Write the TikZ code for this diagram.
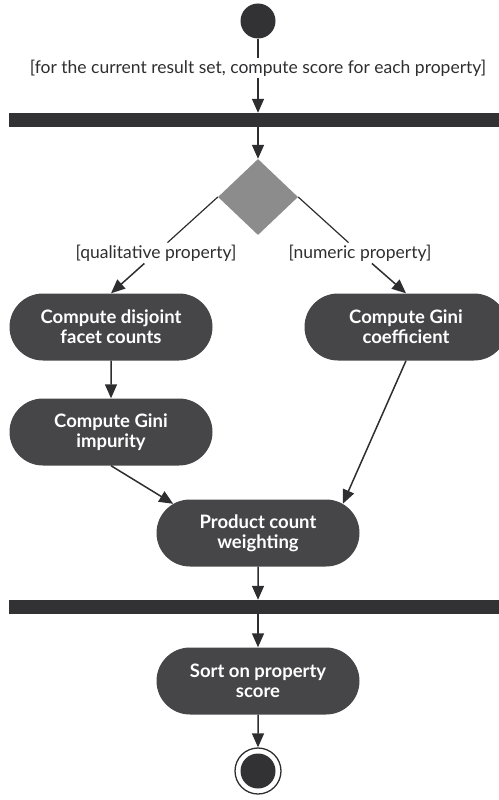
\documentclass[tikz,border=0pt]{standalone}
\usepackage{fontspec}
\setmainfont{Lato}
\usetikzlibrary{arrows.meta,shapes.geometric,shapes.misc}
\definecolor{actgray}{HTML}{464648}
\definecolor{bargray}{HTML}{323234}
\definecolor{decgray}{HTML}{8C8C8C}
\definecolor{linegray}{HTML}{2E2E30}
\begin{document}
\begin{tikzpicture}[x=1pt,y=-1pt]
\tikzstyle{action_style} = [rounded rectangle, fill=actgray, text=white, font=\fontsize{18.5}{20}\selectfont\bfseries, align=center, minimum width=203pt, minimum height=67pt, inner sep=0pt]
\tikzstyle{bar_style} = [rectangle, fill=bargray, minimum width=498pt, minimum height=14pt, inner sep=0pt]
\tikzstyle{guard_style} = [font=\fontsize{17.5}{19}\selectfont, text=linegray, inner sep=2pt]
\tikzstyle{edge_style} = [linegray, line width=1.5pt, -{Triangle[length=14pt,width=12pt]}]
\tikzstyle{line_style} = [linegray, line width=1.2pt]
    \useasboundingbox (0,0) rectangle (498,800);

    \node[circle, fill=bargray, minimum size=35pt, inner sep=0pt] (start) at (258,21) {};
    \node[guard_style] (guard) at (258,68) {[for the current result set, compute score for each property]};
    \node[bar_style] (fork) at (258,120) {};
    \node[diamond, fill=decgray, minimum width=80pt, minimum height=76pt, inner sep=0pt] (dec) at (258,197) {};

    \node[guard_style] (qual) at (156,253) {[qualitative property]};
    \node[guard_style] (num) at (360,253) {[numeric property]};

    \node[action_style] (facet) at (111,327) {Compute disjoint\\facet counts};
    \node[action_style] (coef) at (406,327) {Compute Gini\\coefficient};
    \node[action_style] (impur) at (111,432) {Compute Gini\\impurity};
    \node[action_style] (weight) at (258,533) {Product count\\weighting};
    \node[bar_style] (join) at (258,607) {};
    \node[action_style] (sort) at (258,681) {Sort on property\\score};

    \node[circle, draw=linegray, line width=1.3pt, fill=white, minimum size=46pt, inner sep=0pt] (stop) at (258,771) {};
    \node[circle, fill=bargray, minimum size=35pt, inner sep=0pt] (stopdot) at (stop) {};

    \draw[line_style] (start) -- (guard);
    \draw[edge_style] (guard) -- (fork);
    \draw[edge_style] (fork) -- (dec);
    \draw[line_style] (dec.west) -- (qual);
    \draw[line_style] (dec.east) -- (num);
    \draw[edge_style] (qual) -- (facet.north);
    \draw[edge_style] (num) -- (coef.north);
    \draw[edge_style] (facet) -- (impur);
    \draw[edge_style] (impur.south) -- (weight.161);
    \draw[edge_style] (coef.south) -- (weight.19);
    \draw[edge_style] (weight) -- (join);
    \draw[edge_style] (join) -- (sort);
    \draw[edge_style] (sort) -- (stop);
\end{tikzpicture}
\end{document}
